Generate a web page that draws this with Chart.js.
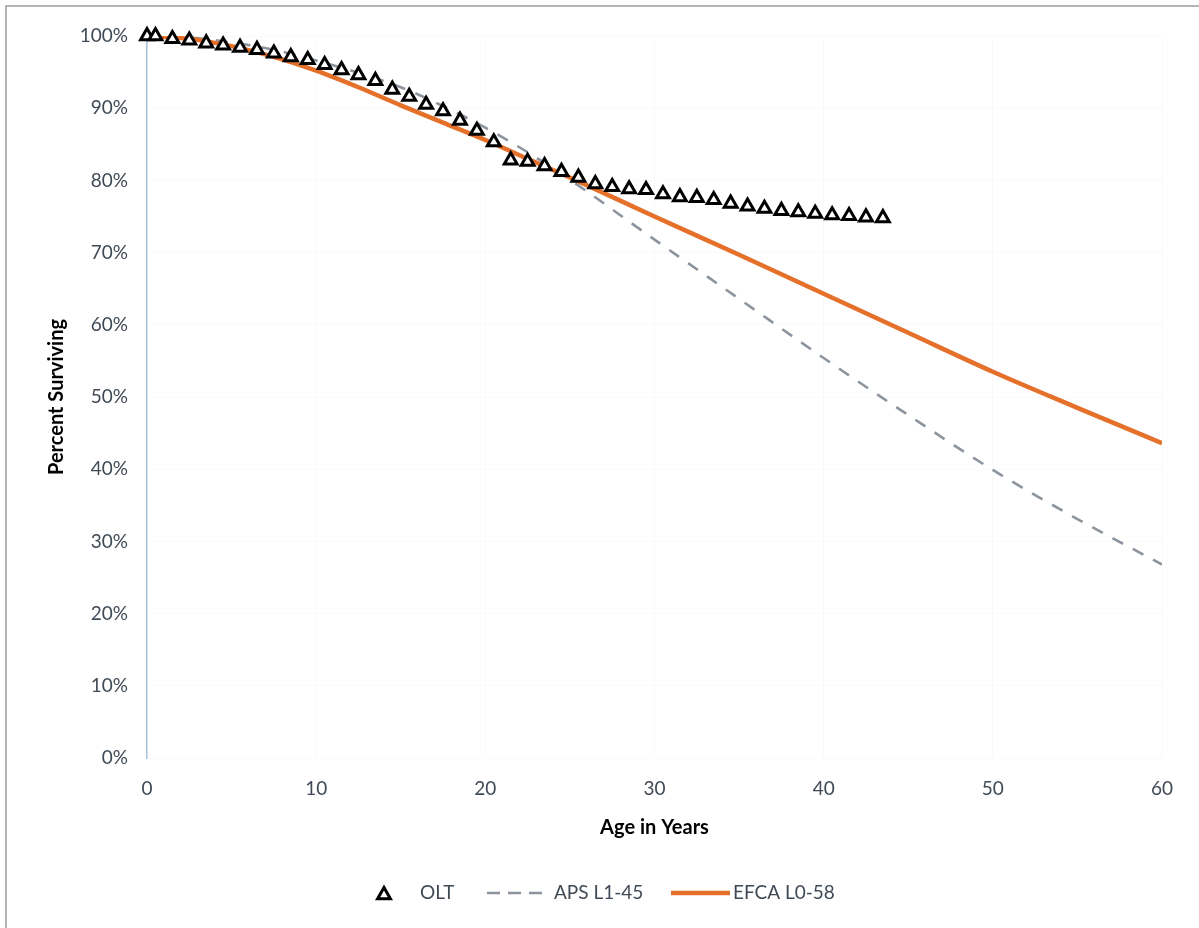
<!DOCTYPE html>
<html>
<head>
<meta charset="utf-8">
<script src="https://cdn.jsdelivr.net/npm/chart.js@4.4.0/dist/chart.umd.min.js"></script>
<style>
  html, body { margin: 0; padding: 0; background: #ffffff; }
  #wrap { width: 1199px; height: 928px; position: relative; }
</style>
</head>
<body>
<div id="wrap"><canvas id="c" width="1199" height="928"></canvas></div>
<script>
// Observed life table (OLT): age at mid-interval and percent surviving
const oltAges = [0, 0.5, 1.5, 2.5, 3.5, 4.5, 5.5, 6.5, 7.5, 8.5, 9.5, 10.5, 11.5, 12.5, 13.5,
  14.5, 15.5, 16.5, 17.5, 18.5, 19.5, 20.5, 21.5, 22.5, 23.5, 24.5, 25.5, 26.5, 27.5, 28.5,
  29.5, 30.5, 31.5, 32.5, 33.5, 34.5, 35.5, 36.5, 37.5, 38.5, 39.5, 40.5, 41.5, 42.5, 43.5];
const oltSurviving = [100, 100, 99.6, 99.4, 99.0, 98.7, 98.4, 98.1, 97.6, 97.1, 96.7, 96.0, 95.3, 94.6, 93.8,
  92.6, 91.6, 90.5, 89.6, 88.3, 86.9, 85.3, 82.8, 82.6, 82.0, 81.2, 80.4, 79.5, 79.1, 78.8,
  78.7, 78.1, 77.7, 77.6, 77.3, 76.8, 76.4, 76.1, 75.8, 75.6, 75.4, 75.2, 75.1, 74.9, 74.8];

// APS L1-45 Iowa curve
const apsAges = [0, 2.5, 5, 7.5, 10, 12.5, 15, 17.5, 20, 22.5, 25, 30, 35, 40, 45, 50, 55, 60];
const apsSurviving = [100, 99.8, 99.1, 98.1, 96.6, 94.9, 92.9, 90.3, 87.3, 83.9, 80.1, 71.8, 63.6, 55.4, 47.5, 39.9, 33.1, 26.8];

// EFCA L0-58 Iowa curve
const efcaAges = [0, 2.5, 5, 7.5, 10, 12.5, 15, 17.5, 20, 22.5, 25, 30, 35, 40, 45, 50, 55, 60];
const efcaSurviving = [100, 99.6, 98.6, 97.1, 95.2, 92.9, 90.4, 88.0, 85.6, 83.0, 80.4, 75.0, 69.7, 64.3, 58.9, 53.5, 48.5, 43.6];

const xTicks = [0, 10, 20, 30, 40, 50, 60];
const yTicks = [0, 10, 20, 30, 40, 50, 60, 70, 80, 90, 100];
const yTickLabels = ['0%', '10%', '20%', '30%', '40%', '50%', '60%', '70%', '80%', '90%', '100%'];

const seriesNames = ['OLT', 'APS L1-45', 'EFCA L0-58'];

const toPoints = (xs, ys) => xs.map((x, i) => ({ x: x, y: ys[i] }));

const FONT = 'Lato, "Open Sans", sans-serif';
const TEXT = '#404a56';

// white page with the thin grey frame along the left and top
const framePlugin = {
  id: 'frame',
  beforeDraw(chart) {
    const ctx = chart.ctx;
    ctx.save();
    ctx.fillStyle = '#ffffff';
    ctx.fillRect(0, 0, chart.width, chart.height);
    ctx.strokeStyle = '#9c9c9c';
    ctx.lineWidth = 1.5;
    ctx.beginPath();
    ctx.moveTo(6, chart.height);
    ctx.lineTo(6, 6);
    ctx.lineTo(chart.width, 6);
    ctx.stroke();
    ctx.restore();
  }
};

// legend row under the x-axis title
const legendPlugin = {
  id: 'bottomLegend',
  afterDraw(chart) {
    const ctx = chart.ctx;
    const ds = chart.data.datasets;
    const y = 893;
    ctx.save();
    ctx.font = '19px ' + FONT;
    ctx.fillStyle = TEXT;
    ctx.textBaseline = 'middle';
    ctx.textAlign = 'left';

    // OLT marker
    ctx.save();
    ctx.fillStyle = ds[0].backgroundColor;
    ctx.strokeStyle = ds[0].borderColor;
    ctx.lineWidth = ds[0].borderWidth;
    Chart.helpers.drawPoint(ctx, { pointStyle: 'triangle', radius: ds[0].pointRadius, borderWidth: ds[0].borderWidth, rotation: 0 }, 384, y + 2);
    ctx.restore();
    ctx.fillText(ds[0].label, 420, y);

    // APS dashed sample
    ctx.save();
    ctx.strokeStyle = ds[1].borderColor;
    ctx.lineWidth = ds[1].borderWidth;
    ctx.setLineDash([13, 8]);
    ctx.beginPath();
    ctx.moveTo(487, y);
    ctx.lineTo(542, y);
    ctx.stroke();
    ctx.restore();
    ctx.fillText(ds[1].label, 554, y);

    // EFCA solid sample
    ctx.save();
    ctx.strokeStyle = ds[2].borderColor;
    ctx.lineWidth = ds[2].borderWidth;
    ctx.beginPath();
    ctx.moveTo(671, y);
    ctx.lineTo(730, y);
    ctx.stroke();
    ctx.restore();
    ctx.fillText(ds[2].label, 733, y);
    ctx.restore();
  }
};

new Chart(document.getElementById('c'), {
  type: 'scatter',
  data: {
    datasets: [
      {
        label: seriesNames[0],
        data: toPoints(oltAges, oltSurviving),
        showLine: false,
        pointStyle: 'triangle',
        pointRadius: 7.4,
        pointHoverRadius: 7.4,
        borderWidth: 3,
        borderColor: '#000000',
        backgroundColor: '#ffffff',
        clip: false,
        order: 0
      },
      {
        label: seriesNames[1],
        data: toPoints(apsAges, apsSurviving),
        showLine: true,
        pointRadius: 0,
        borderColor: '#8c949e',
        borderWidth: 2.6,
        borderDash: [12, 11],
        cubicInterpolationMode: 'monotone',
        fill: false,
        order: 2
      },
      {
        label: seriesNames[2],
        data: toPoints(efcaAges, efcaSurviving),
        showLine: true,
        pointRadius: 0,
        borderColor: '#e5702a',
        borderWidth: 4.5,
        cubicInterpolationMode: 'monotone',
        fill: false,
        order: 1
      }
    ]
  },
  options: {
    responsive: false,
    animation: false,
    devicePixelRatio: 1,
    layout: { padding: { left: 0, top: 36, right: 37, bottom: 0 } },
    plugins: {
      legend: { display: false },
      tooltip: { enabled: false }
    },
    scales: {
      x: {
        type: 'linear',
        min: 0,
        max: 60,
        afterFit(scale) { scale.height = 170; },
        afterBuildTicks(scale) { scale.ticks = xTicks.map(v => ({ value: v })); },
        grid: { color: 'rgba(0,0,0,0.018)', drawTicks: false },
        border: { display: false },
        ticks: {
          padding: 19,
          color: TEXT,
          font: { family: FONT, size: 19 },
          maxRotation: 0,
          callback: (v) => String(v)
        },
        title: {
          display: true,
          text: 'Age in Years',
          color: '#000000',
          font: { family: FONT, size: 20, weight: 'bold' },
          padding: { top: 0, bottom: 88 }
        }
      },
      y: {
        type: 'linear',
        min: 0,
        max: 100,
        afterFit(scale) { scale.width = 147; },
        afterBuildTicks(scale) { scale.ticks = yTicks.map(v => ({ value: v })); },
        grid: { color: 'rgba(0,0,0,0.018)', drawTicks: false },
        border: { display: true, color: '#a7c0dc', width: 1.5 },
        ticks: {
          padding: 19,
          color: TEXT,
          font: { family: FONT, size: 19 },
          callback: (v) => yTickLabels[yTicks.indexOf(v)]
        },
        title: {
          display: true,
          text: 'Percent Surviving',
          color: '#000000',
          font: { family: FONT, size: 20, weight: 'bold' },
          padding: { top: 45, bottom: 0 }
        }
      }
    }
  },
  plugins: [framePlugin, legendPlugin]
});
</script>
</body>
</html>
